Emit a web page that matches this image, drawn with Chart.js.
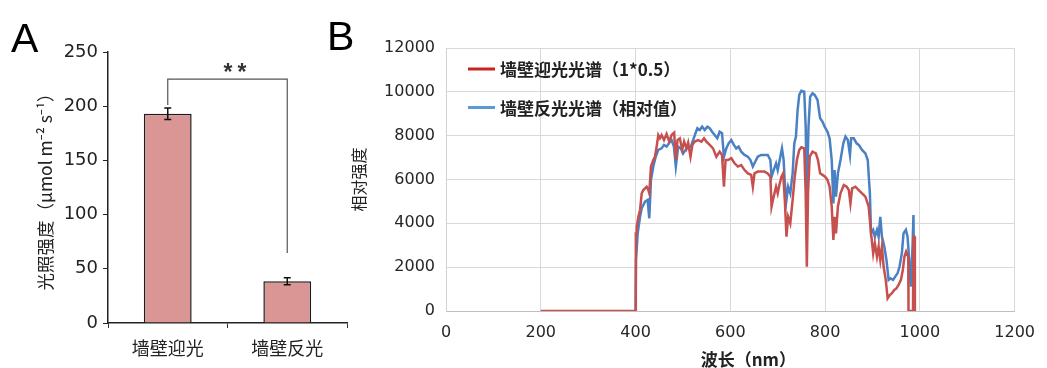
<!DOCTYPE html>
<html>
<head>
<meta charset="utf-8">
<script src="https://cdn.jsdelivr.net/npm/chart.js@4.4.1/dist/chart.umd.min.js"></script>
<style>
  html, body { margin: 0; padding: 0; background: #fff; width: 1047px; height: 368px; overflow: hidden; }
  .wrap { position: absolute; top: 0; }
  #wrapA { left: 0; width: 352px; height: 368px; }
  #wrapB { left: 336px; width: 711px; height: 380px; }
  .tag { position: absolute; font-family: "Liberation Sans", Arial, sans-serif; font-size: 41px; line-height: 41px; color: #000; }
</style>
</head>
<body>
<div class="wrap" id="wrapA"><canvas id="chartA" width="352" height="368"></canvas></div>
<div class="wrap" id="wrapB"><canvas id="chartB" width="711" height="380"></canvas></div>
<div class="tag" style="left:11px;top:18px">A</div>
<div class="tag" style="left:327px;top:16px">B</div>
<script>
// ---- Panel A: light intensity on the two wall sides ----
const barCategories = ['墙壁迎光', '墙壁反光'];
const barValues = [193, 38.5];
const barErrors = [5.3, 3.3];
const significanceMark = '**';
const intensityTicks = [0, 50, 100, 150, 200, 250];

// ---- Panel B: relative spectra ----
const frontWavelength = [200, 400, 400.6, 401, 402.5, 406, 409.5, 413, 416.5, 420, 423.5, 427, 429, 432.5, 437.5, 441, 444.5, 448, 451.5, 455, 460, 465.5, 471, 476, 481.5, 485, 488.5, 493.5, 498.5, 502.5, 507.5, 511, 516, 520, 525, 532, 539, 544.5, 549.5, 556.5, 563.5, 570.5, 577.5, 582.5, 586.5, 590, 595, 602, 609, 616, 623, 630, 637, 644, 647.5, 651, 658, 665, 672, 679, 684.5, 687, 691.5, 696.5, 700, 703.5, 708, 711.5, 715, 718.5, 722, 726.5, 731.5, 736, 740.5, 745.5, 750, 756, 759, 761.5, 764, 767.5, 773.5, 780.5, 785, 789.5, 794.5, 800, 805, 809.5, 814, 817.5, 820, 823, 827, 832.5, 839.5, 845.5, 850, 853.5, 857, 864, 871, 878, 885, 892, 897, 901.5, 905, 909.5, 913, 916.5, 920, 923.5, 928, 932, 936.5, 941, 946, 950.5, 955, 960, 964, 967.5, 971, 975.5, 976, 985.5, 986.5, 988.5, 989.5];
const frontIntensity = [0, 0, 3540, 3540, 3850, 4300, 4610, 5370, 5520, 5600, 5670, 5520, 5370, 6590, 6890, 7040, 7500, 8030, 7880, 8030, 7800, 8080, 7730, 8030, 8140, 6890, 7800, 7880, 7350, 7730, 7420, 7680, 7040, 7580, 7730, 7800, 7730, 7880, 7730, 7580, 7420, 7040, 7270, 7120, 5670, 6890, 6890, 6970, 6740, 6590, 6660, 6430, 6280, 6210, 5670, 6280, 6360, 6360, 6360, 6280, 6130, 4760, 5220, 5670, 5370, 5750, 6130, 6280, 5070, 3390, 4300, 4000, 5070, 6130, 6890, 7350, 7470, 7420, 5370, 2020, 5370, 7040, 7270, 7190, 6890, 6280, 6210, 6130, 5980, 5670, 4760, 3240, 4300, 3540, 4760, 5370, 5750, 5670, 5520, 4910, 5600, 5670, 5520, 5370, 5220, 4760, 3540, 2630, 3090, 2480, 2940, 2330, 2940, 2020, 1420, 580, 730, 810, 960, 1030, 1190, 1420, 1870, 2480, 2710, 2480, 0, 0, 3390, 3390, 0];

const reflectWavelength = [400, 401, 404.5, 409.5, 413, 420, 425.5, 429, 432.5, 437.5, 442.5, 448, 455, 460, 465.5, 470.5, 476, 481, 485, 490, 495.5, 500.5, 505.5, 511, 516.5, 521.5, 526.5, 530.5, 535.5, 540.5, 546, 551.5, 556.5, 561.5, 567, 572.5, 577.5, 582.5, 586.5, 591.5, 596.5, 602, 607.5, 612.5, 617.5, 623, 630, 637, 642.5, 647.5, 652.5, 658, 665, 672, 679, 684.5, 687, 691.5, 696.5, 700, 705.5, 709, 712.5, 715, 718.5, 722, 726.5, 731.5, 735, 738.5, 742, 745.5, 750, 756, 759, 761.5, 765, 768.5, 773.5, 778, 784, 789.5, 794.5, 799, 805, 809.5, 814, 817.5, 820, 823, 827, 832.5, 838.5, 843, 848, 852.5, 855, 860.5, 866.5, 871, 878, 885, 890, 894.5, 897, 901.5, 905, 909.5, 913, 916.5, 920, 925, 929.5, 934, 937.5, 943.5, 948, 953, 957, 962, 965.5, 970.5, 974, 977.5, 981, 984.5, 986.5, 988.5];
const reflectIntensity = [0, 2330, 3540, 4300, 4690, 4990, 5070, 4230, 5980, 6590, 7040, 7350, 7420, 7580, 7500, 7650, 7800, 7500, 6590, 7500, 7420, 7190, 7350, 7500, 7500, 7800, 8110, 8340, 8260, 8410, 8260, 8410, 8340, 8180, 8030, 7880, 8180, 8110, 7040, 7420, 7650, 7800, 7580, 7420, 7500, 7270, 7120, 7040, 6890, 6590, 6810, 7040, 7120, 7120, 7120, 6890, 6130, 6430, 6740, 6430, 7040, 7420, 6890, 5830, 5070, 5670, 5370, 6280, 7650, 7960, 9170, 9860, 10050, 10010, 8410, 5500, 8410, 9780, 9930, 9860, 9630, 8790, 8640, 8410, 8180, 7880, 6890, 4910, 6430, 5220, 6280, 6890, 7650, 7960, 7800, 7120, 7880, 7880, 7650, 7580, 7350, 7190, 6890, 5370, 3540, 3700, 3390, 3700, 3390, 4300, 3390, 2940, 2330, 1420, 1490, 1420, 1570, 1720, 2020, 2630, 3540, 3700, 3390, 2330, 1110, 2940, 4380, 0];

const spectrumLabels = ['墙壁迎光光谱（1*0.5）', '墙壁反光光谱（相对值）'];
const wavelengthTicks = [0, 200, 400, 600, 800, 1000, 1200];
const relativeTicks = [0, 2000, 4000, 6000, 8000, 10000, 12000];
const wavelengthTitle = '波长（nm）';

const CJK = '"Noto Sans CJK SC", "Noto Sans", sans-serif';
const NUM = '"DejaVu Sans", "Liberation Sans", sans-serif';

const toPoints = (xs, ys) => xs.map((x, i) => ({ x: x, y: ys[i] }));
const plainNumber = v => String(v);

// error bars on top of each bar
const errorBarPlugin = {
  id: 'errorBars',
  afterDatasetsDraw(chart, args, opts) {
    const meta = chart.getDatasetMeta(0);
    const y = chart.scales.y;
    const ctx = chart.ctx;
    ctx.save();
    ctx.strokeStyle = opts.color;
    ctx.lineWidth = opts.width;
    meta.data.forEach((bar, i) => {
      const top = y.getPixelForValue(barValues[i] + barErrors[i]);
      const bot = y.getPixelForValue(barValues[i] - barErrors[i]);
      ctx.beginPath();
      ctx.moveTo(bar.x, top); ctx.lineTo(bar.x, bot);
      ctx.moveTo(bar.x - opts.cap, top); ctx.lineTo(bar.x + opts.cap, top);
      ctx.moveTo(bar.x - opts.cap, bot); ctx.lineTo(bar.x + opts.cap, bot);
      ctx.stroke();
    });
    ctx.restore();
  }
};

// significance bracket between the two bars
const bracketPlugin = {
  id: 'sigBracket',
  afterDatasetsDraw(chart, args, opts) {
    const meta = chart.getDatasetMeta(0);
    const y = chart.scales.y;
    const ctx = chart.ctx;
    const x1 = meta.data[0].x, x2 = meta.data[1].x;
    const yTop = y.getPixelForValue(opts.top);
    ctx.save();
    ctx.strokeStyle = opts.color;
    ctx.lineWidth = opts.width;
    ctx.beginPath();
    ctx.moveTo(x1, y.getPixelForValue(opts.leftEnd));
    ctx.lineTo(x1, yTop);
    ctx.lineTo(x2, yTop);
    ctx.lineTo(x2, y.getPixelForValue(opts.rightEnd));
    ctx.stroke();
    ctx.fillStyle = opts.textColor;
    ctx.font = opts.font;
    ctx.textAlign = 'center';
    ctx.textBaseline = 'middle';
    if ('letterSpacing' in ctx) ctx.letterSpacing = opts.spacing;
    ctx.fillText(significanceMark, (x1 + x2) / 2 + opts.shift, yTop - opts.gap);
    ctx.restore();
  }
};

// legend drawn inside the plot area
const insideLegendPlugin = {
  id: 'insideLegend',
  afterDatasetsDraw(chart, args, opts) {
    const ctx = chart.ctx;
    const area = chart.chartArea;
    ctx.save();
    ctx.font = opts.font;
    ctx.textBaseline = 'middle';
    ctx.textAlign = 'left';
    chart.data.datasets.forEach((ds, i) => {
      const x = area.left + opts.dx;
      const y = area.top + opts.dy + i * opts.rowGap;
      ctx.strokeStyle = opts.swatch[i];
      ctx.lineWidth = 3;
      ctx.beginPath();
      ctx.moveTo(x, y); ctx.lineTo(x + opts.lineLength, y);
      ctx.stroke();
      ctx.fillStyle = opts.color;
      ctx.fillText(ds.label, x + opts.lineLength + opts.gap, y + 1);
    });
    ctx.restore();
  }
};

// wavelength axis title, set a little right of the plot centre
const axisCaptionPlugin = {
  id: 'axisCaption',
  afterDraw(chart, args, opts) {
    const ctx = chart.ctx;
    const area = chart.chartArea;
    ctx.save();
    ctx.font = opts.font;
    ctx.fillStyle = opts.color;
    ctx.textAlign = 'center';
    ctx.textBaseline = 'middle';
    ctx.fillText(opts.text, (area.left + area.right) / 2 + opts.dx, area.bottom + opts.dy);
    ctx.restore();
  }
};

new Chart(document.getElementById('chartA'), {
  type: 'bar',
  data: {
    labels: barCategories,
    datasets: [{
      data: barValues,
      backgroundColor: '#D99694',
      borderColor: '#1c1c1c',
      borderWidth: 1.5,
      barPercentage: 0.4,
      categoryPercentage: 1
    }]
  },
  options: {
    responsive: false,
    animation: false,
    layout: { padding: { top: 52, right: 5, left: 0, bottom: 0 } },
    plugins: {
      legend: { display: false },
      tooltip: { enabled: false },
      errorBars: { color: '#111', width: 1.5, cap: 3.5 },
      sigBracket: { top: 225, leftEnd: 201, rightEnd: 64.5, color: '#555', width: 1.2, shift: 10,
                    textColor: '#333', font: 'bold 23px "Liberation Sans", Arial, sans-serif', spacing: '5px', gap: 5 }
    },
    scales: {
      x: {
        grid: { drawOnChartArea: false, drawTicks: true, tickLength: 5, color: '#333', offset: true },
        border: { color: '#222', width: 1.5 },
        ticks: { font: { family: CJK, size: 18 }, color: '#222', padding: 9 },
        afterFit: s => { s.height = 45; }
      },
      y: {
        min: 0, max: 250,
        afterBuildTicks: s => { s.ticks = intensityTicks.map(v => ({ value: v })); },
        ticks: { font: { family: NUM, size: 18 }, color: '#222', padding: 5, callback: plainNumber },
        grid: { drawOnChartArea: false, tickLength: 5, color: '#222' },
        border: { color: '#222', width: 1.5 },
        title: { display: true, text: '光照强度（μmol m⁻² s⁻¹）', color: '#222',
                 font: { family: CJK, size: 17.5 }, padding: { top: 35, bottom: 0 } },
        afterFit: s => { s.width = 108; }
      }
    }
  },
  plugins: [errorBarPlugin, bracketPlugin]
});

new Chart(document.getElementById('chartB'), {
  type: 'line',
  data: {
    datasets: [
      { label: spectrumLabels[0], data: toPoints(frontWavelength, frontIntensity),
        borderColor: '#C5504D', borderWidth: 2.5, pointRadius: 0, tension: 0, fill: false },
      { label: spectrumLabels[1], data: toPoints(reflectWavelength, reflectIntensity),
        borderColor: '#4A80C4', borderWidth: 2.5, pointRadius: 0, tension: 0, fill: false }
    ]
  },
  options: {
    responsive: false,
    animation: false,
    layout: { padding: { top: 48, right: 29, left: 0, bottom: 0 } },
    plugins: {
      legend: { display: false },
      tooltip: { enabled: false },
      insideLegend: { dx: 22, dy: 21, rowGap: 38.5, lineLength: 27, gap: 5,
                      font: 'bold 17px ' + CJK, color: '#222', swatch: ['#C8231F', '#5B9BD5'] },
      axisCaption: { text: wavelengthTitle, font: 'bold 17px ' + CJK, color: '#222', dx: 18, dy: 49 }
    },
    scales: {
      x: {
        type: 'linear', min: 0, max: 1200,
        afterBuildTicks: s => { s.ticks = wavelengthTicks.map(v => ({ value: v })); },
        ticks: { font: { family: NUM, size: 16 }, color: '#262626', padding: 12, callback: plainNumber },
        grid: { color: '#d9d9d9', drawTicks: false },
        border: { color: '#bfbfbf', width: 1 },
        afterFit: s => { s.height = 380 - 311; }
      },
      y: {
        min: 0, max: 12000,
        afterBuildTicks: s => { s.ticks = relativeTicks.map(v => ({ value: v })); },
        ticks: { font: { family: NUM, size: 16 }, color: '#262626', padding: 11, callback: plainNumber },
        grid: { color: '#d9d9d9', drawTicks: false },
        border: { color: '#d0d0d0', width: 1 },
        title: { display: true, text: '相对强度', color: '#222',
                 font: { family: CJK, size: 16 }, padding: { top: 13, bottom: 0 } },
        afterFit: s => { s.width = 110; }
      }
    }
  },
  plugins: [insideLegendPlugin, axisCaptionPlugin]
});
</script>
</body>
</html>
